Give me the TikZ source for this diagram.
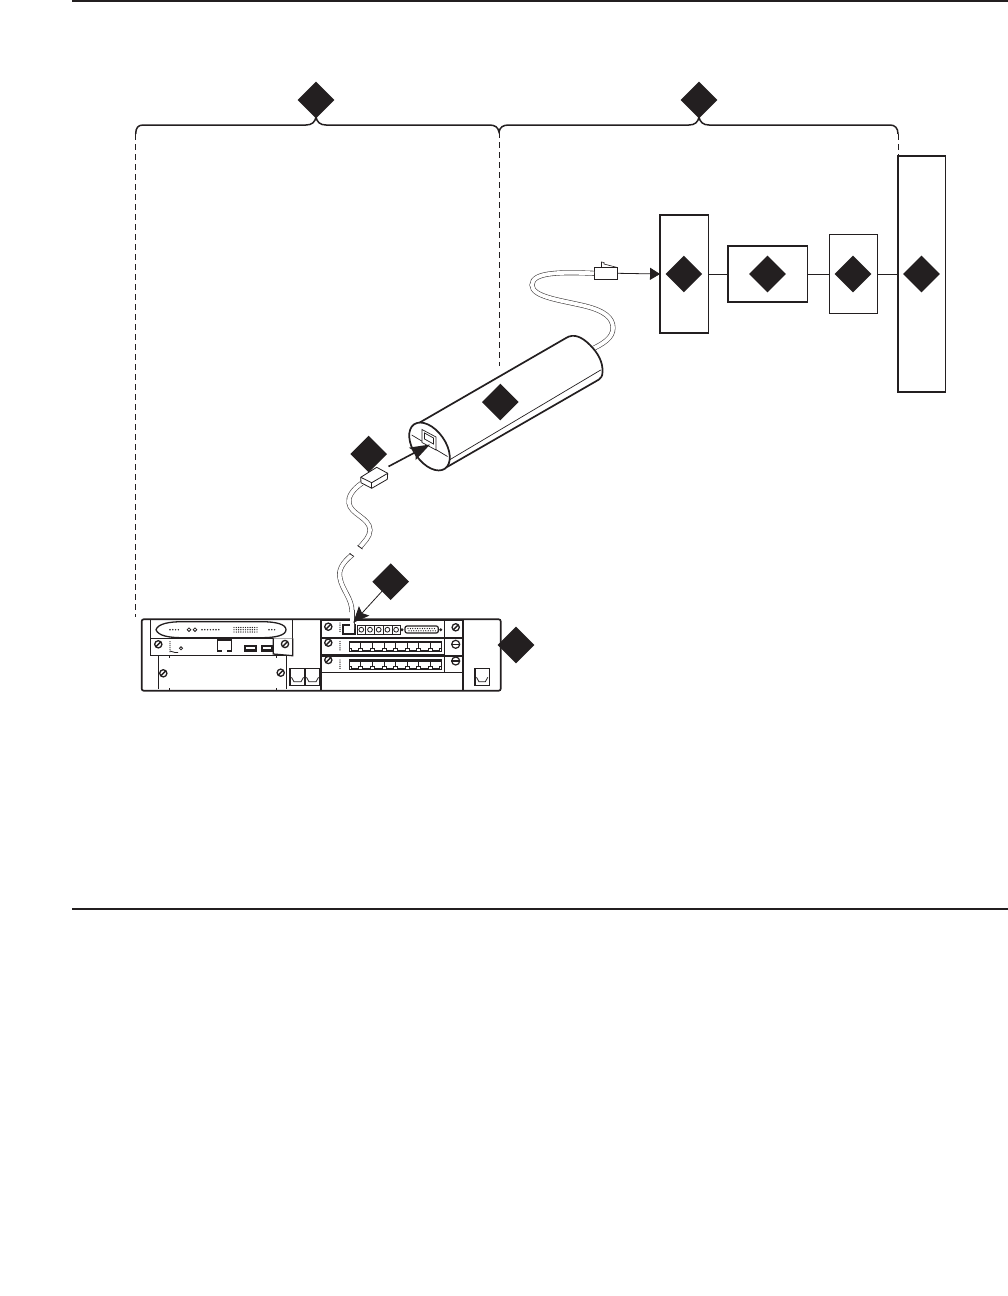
\documentclass[tikz,border=0pt]{standalone}
\usepackage{tikz}
\usetikzlibrary{calc,positioning,shapes.geometric,arrows.meta}
\definecolor{inkblack}{HTML}{231F20}
\tikzset{
  callout/.style={
    diamond,
    aspect=1,
    minimum size=36.6pt,
    inner sep=0pt,
    outer sep=0pt,
    fill=inkblack,
  },
  unitbox/.style={
    draw=inkblack,
    rectangle,
    inner sep=0pt,
    outer sep=0pt,
    line width=1.5pt,
    fill=white,
  },
  wire/.style={line width=0.8pt, draw=inkblack},
  cable/.style={line width=0.6pt, draw=inkblack!85, double=white, double distance=3.8pt},
  guide/.style={line width=0.9pt, draw=inkblack, dash pattern=on 6pt off 4pt},
  brace/.style={line width=1.5pt, draw=inkblack},
  body/.style={line width=1.7pt, draw=inkblack},
  fine/.style={line width=0.8pt, draw=inkblack},
  panel/.style={line width=1.3pt, draw=inkblack},
}
\begin{document}
\begin{tikzpicture}[x=1pt,y=-1pt]
  \useasboundingbox (0,0) rectangle (1008,1296);
  % page rules
  \coordinate (ruleA) at (72,1);
  \coordinate (ruleB) at (1008,1);
  \coordinate (ruleC) at (72,909);
  \coordinate (ruleD) at (1008,909);
  \draw[line width=1.3pt,inkblack] (ruleA) -- (ruleB);
  \draw[line width=1.3pt,inkblack] (ruleC) -- (ruleD);

  % braces
  \draw[brace] (135.7,134) .. controls (135.7,128) and (138,125) .. (143,125) -- (306,125)
    .. controls (312,125) and (315,122) .. (316,117)
    .. controls (317,122) and (320,125) .. (326,125) -- (489,125)
    .. controls (495,125) and (498,127) .. (499,132)
    .. controls (500,127) and (503,125) .. (509,125) -- (689,125)
    .. controls (695,125) and (698,122) .. (699,117)
    .. controls (700,122) and (703,125) .. (709,125) -- (890,125)
    .. controls (895,125) and (898,128) .. (898,134);
  \draw[guide] (135.7,134) -- (135.7,617);
  \draw[guide] (499,132) -- (499,366);
  \draw[guide] (898,134) -- (898,156);

  % boxes on the right
  \node[unitbox,minimum width=48.3pt,minimum height=117.7pt] (jackbox) at (684.2,274) {};
  \node[unitbox,minimum width=79.3pt,minimum height=56pt] (linebox) at (767.7,274) {};
  \node[unitbox,minimum width=47.6pt,minimum height=78.3pt,line width=1.2pt] (frambox) at (853.5,274) {};
  \node[unitbox,minimum width=47.3pt,minimum height=236pt] (farbox) at (921.7,274) {};
  \draw[wire] (jackbox.east) -- (linebox.west);
  \draw[wire] (linebox.east) -- (frambox.west);
  \draw[wire] (frambox.east) -- (farbox.west);

  % plug on the far cable
  \node[draw=inkblack,fill=white,line width=0.6pt,inner sep=0pt,minimum width=23.4pt,minimum height=12pt] (plugA) at (606,273.3) {};
  \draw[line width=0.6pt,inkblack] (601.5,267.3) -- (601.5,262) -- (604,262.5) -- (604,264) -- (616.5,267.3);
  \draw[wire,-{Triangle[length=10pt,width=12pt]}] (plugA.east) -- (jackbox.west);

  % far cable goes under the tube
  \coordinate (tubeend) at (590,350);
  \draw[cable] (plugA.west) .. controls (560,272) and (532,272) .. (532,285)
    .. controls (532,297) and (560,300) .. (585,306)
    .. controls (605,311) and (613,318) .. (613,328)
    .. controls (613,338) and (603,344) .. (tubeend);

  % tube
  \fill[white] (418,423) -- (566,337) .. controls (580,330) and (603,350) .. (603,370) -- (599.5,379.5) -- (446,467) -- cycle;
  \draw[body] (418,423.5) -- (566,338) .. controls (574,333) and (582,337) .. (590,345)
    .. controls (598,353) and (603,362) .. (602.5,372) .. controls (602.5,376) and (601,378) .. (599,379.5)
    -- (447,467);
  \draw[line width=0.7pt,inkblack] (449.3,460) -- (600.7,370);
  \draw[body,fill=white,rotate around={35:(429.5,446.5)}] (429.5,446.5) ellipse [x radius=16,y radius=27];
  \draw[line width=0.7pt,inkblack] (411.7,435) -- (447.5,456.5);
  \draw[line width=0.7pt,inkblack,fill=white] (422,429.5) -- (436,437) -- (436,450) -- (422,442.5) -- cycle;
  \draw[line width=0.7pt,inkblack] (424.5,433) -- (433.5,438) -- (433.5,444) -- (424.5,439) -- cycle;
  \coordinate (tubejack) at (430,444.5);

  % near cable and plug
  \coordinate (plugB) at (362,483);
  \coordinate (cutA) at (360,547);
  \coordinate (cutB) at (352,555);
  \coordinate (modjack) at (352,629);
  \draw[cable] (plugB) .. controls (352,490) and (348,497) .. (349,503)
    .. controls (350,514) and (370,518) .. (370,530)
    .. controls (370,537) and (364,542) .. (cutA);
  \draw[fine] (357.5,545.5) -- (362.5,549);
  \draw[cable] (cutB) .. controls (343,562) and (338,570) .. (340,578)
    .. controls (342,590) and (352,598) .. (352,612);
  \draw[fine] (349.5,553.5) -- (354,556.5);
  \draw[fine,fill=white] (360.7,477.3) -- (376.7,467.3) -- (387.7,473.3) -- (387.3,479.3) -- (371.7,488.3) -- (361,482.7) -- cycle;
  \draw[fine] (360.7,477.3) -- (371.7,482.7) -- (387.7,473.3);
  \draw[fine] (371.7,482.7) -- (371.7,488.3);
  \draw[line width=1.6pt,inkblack,-{Stealth[length=20pt,width=14pt,inset=4pt]}] (388.5,466.5) -- (tubejack);

  % chassis
  \draw[body,rounded corners=2pt,fill=white] (141.7,619.3) rectangle (500.7,690.7);
  \draw[body] (321,619.3) -- (321,690.7);
  \draw[body] (462.7,619.3) -- (462.7,690.7);

  % left card
  \draw[panel] (150.7,620) -- (150.7,655.7) -- (292.7,655.7) -- (292.7,620);
  \draw[panel] (150.7,638.3) -- (292.7,638.3);
  \draw[panel] (156,629.7) .. controls (158,623.5) and (170,621.7) .. (182,621.7)
    -- (262,621.7) .. controls (275,621.7) and (286,624) .. (286,629.7)
    .. controls (286,635.5) and (275,637.7) .. (262,637.7) -- (182,637.7)
    .. controls (170,637.7) and (158,636) .. (156,629.7) -- cycle;
  \foreach \i in {0,...,3} \fill[inkblack] (170+\i*2.8,629.7) circle (0.8pt);
  \foreach \i in {0,...,6} \fill[inkblack] (202+\i*2.8,629.7) circle (0.8pt);
  \foreach \i in {0,...,10} {
    \fill[inkblack] (234+\i*2.3,627.5) circle (0.7pt);
    \fill[inkblack] (234+\i*2.3,629.7) circle (0.7pt);
    \fill[inkblack] (234+\i*2.3,632) circle (0.7pt);
  }
  \foreach \i in {0,1,2} \fill[inkblack] (269+\i*2.8,629.7) circle (0.8pt);
  \draw[fine] (189,629.7) circle (1.8pt);
  \draw[fine] (195,629.7) circle (1.8pt);
  \foreach \i in {0,...,5} \fill[inkblack] (170,641.7+\i*2) circle (0.7pt);
  \draw[fine] (170,651) -- (175,652.5) -- (178,652.5);
  \draw[fine] (181,648.3) circle (1.6pt);
  \draw[panel] (217.3,651.7) -- (217.3,640) -- (231.7,640) -- (231.7,651.7);
  \fill[inkblack] (217.3,649.7) rectangle (222,651.7);
  \fill[inkblack] (227,649.7) rectangle (231.7,651.7);
  \fill[inkblack] (244.3,645) rectangle (256.7,651.7);
  \fill[white] (245.8,647) rectangle (255.2,649);
  \fill[inkblack] (261,645) rectangle (272.7,651.7);
  \fill[white] (262.5,647) rectangle (271.2,649);
  \draw[panel,fill=white] (273.3,638.3) -- (273.3,654) -- (292.7,655.7) -- (292.7,638.3);
  \draw[panel] (158.3,655.7) -- (158.3,689.3);
  \draw[panel] (286.7,655.7) -- (286.7,689.3);
  \foreach \tx in {168.5,276} {
    \fill[inkblack] (\tx,655.7) rectangle ++(1,2);
    \fill[inkblack] (\tx,687.5) rectangle ++(1,2);
  }

  % jacks beside the cards
  \foreach \jx/\jy/\jw in {290/668.3/15,305/668.3/15,475/668.3/14.3} {
    \draw[line width=1.1pt,inkblack] (\jx,\jy) rectangle ++(\jw,17.5);
    \draw[fine] (\jx+1.5,\jy+9) -- ++(2.5,4.5) -- ++(\jw-8,0) -- ++(2.5,-4.5);
  }

  % right cards
  \foreach \py in {620.7,638.3,656} {
    \draw[panel] (321,\py) rectangle (444.3,\py+16.6);
    \draw[fine] (444.3,\py) rectangle (462.7,\py+16.6);
  }
  \draw[panel] (321,672.6) -- (462.7,672.6);
  \foreach \py in {623,641.5,660} {
    \foreach \i in {0,...,4} \fill[inkblack] (340,\py+\i*2.1) circle (0.7pt);
  }
  \foreach \py in {641.7,660} {
    \draw[panel,fill=white] (349.3,\py) rectangle (441.7,\py+9.7);
    \foreach \i in {0,...,7} {
      \pgfmathsetmacro{\qx}{349.3+\i*11.55}
      \draw[fine] (\qx,\py+1) -- (\qx+11.55,\py+1) -- (\qx+11.55,\py+6.5) -- (\qx+9.5,\py+6.5) -- (\qx+9.5,\py+8.5) -- (\qx+2,\py+8.5) -- (\qx+2,\py+6.5) -- (\qx,\py+6.5);
    }
  }
  \foreach \i in {0,...,4} {
    \draw[line width=0.5pt,inkblack] (357+\i*8.7,625.5) rectangle ++(8.7,8.5);
    \draw[fine] (361.3+\i*8.7,629.7) circle (2.4pt);
  }
  \draw[line width=1.2pt,inkblack,rounded corners=2pt] (405,626) rectangle (438.3,633);
  \foreach \i in {0,...,11} {
    \fill[inkblack] (408+\i*2.4,628.5) circle (0.65pt);
    \fill[inkblack] (409+\i*2.4,630.8) circle (0.65pt);
  }
  \fill[inkblack] (402,629.7) circle (1.6pt);
  \fill[inkblack] (440.7,629.7) circle (1.6pt);

  % screws
  \foreach \sx/\sy in {158.3/644.3,285/644,163.3/673.3,280.7/672.7,328.3/626.7,328.3/642.7,328.3/660,455.7/627.3} {
    \draw[line width=1.3pt,inkblack,fill=white] (\sx,\sy) circle (3.6pt);
    \draw[line width=1.4pt,inkblack] (\sx-2.4,\sy+2.4) -- (\sx+2.4,\sy-2.4);
  }
  \foreach \sx/\sy in {455.7/644.3,455.7/661} {
    \draw[line width=1.2pt,inkblack,fill=white] (\sx,\sy) circle (4pt);
    \draw[line width=1.2pt,inkblack] (\sx-4.5,\sy) -- (\sx+4.5,\sy);
  }

  % module jack with the cable in it
  \draw[line width=1.1pt,inkblack,fill=white] (343,625) rectangle (355,634);
  \draw[cable,line width=0.9pt,double distance=3.2pt] (352,610) -- (modjack);

  % callouts
  \node[callout] (calloutA) at (316,100) {};
  \node[callout] (calloutB) at (699,100) {};
  \node[callout] (calloutC) at (683.8,274) {};
  \node[callout] (calloutD) at (767.5,274) {};
  \node[callout] (calloutE) at (853,274) {};
  \node[callout] (calloutF) at (921.5,274) {};
  \node[callout] (calloutG) at (500.3,402) {};
  \node[callout] (calloutH) at (368.7,454) {};
  \node[callout] (calloutJ) at (390.7,581.7) {};
  \node[callout] (calloutK) at (516,645) {};
  \coordinate (modtip) at (353.3,622.7);
  \draw[fine,-{Stealth[length=16pt,width=14pt,inset=3pt]}] (calloutJ) -- (modtip);
\end{tikzpicture}
\end{document}
